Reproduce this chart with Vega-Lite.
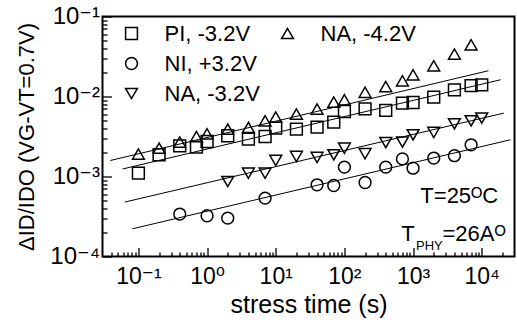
{
  "$schema": "https://vega.github.io/schema/vega-lite/v6.json",
  "width": 412,
  "height": 240,
  "autosize": {"type": "none"},
  "padding": {"left": 102.5, "top": 16.5, "right": 2.5, "bottom": 65.5},
  "config": {
    "font": "Liberation Sans",
    "view": {"stroke": "black", "strokeWidth": 2},
    "axis": {
      "domain": false, "grid": false,
      "labelColor": "black", "titleColor": "black", "tickColor": "black",
      "labelFont": "Liberation Sans, DejaVu Sans", "titleFont": "Liberation Sans, DejaVu Sans",
      "titleFontWeight": "normal", "labelOverlap": false, "labelFlush": false, "tickWidth": 1.3
    }
  },
  "datasets": {
    "meas": [
      {"series": "PI, -3.2V", "t": 0.1, "v": 0.00110},
      {"series": "PI, -3.2V", "t": 0.2, "v": 0.00187},
      {"series": "PI, -3.2V", "t": 0.4, "v": 0.00242},
      {"series": "PI, -3.2V", "t": 0.7, "v": 0.00233},
      {"series": "PI, -3.2V", "t": 1, "v": 0.00274},
      {"series": "PI, -3.2V", "t": 2, "v": 0.00323},
      {"series": "PI, -3.2V", "t": 4, "v": 0.00293},
      {"series": "PI, -3.2V", "t": 7, "v": 0.00316},
      {"series": "PI, -3.2V", "t": 10, "v": 0.00403},
      {"series": "PI, -3.2V", "t": 20, "v": 0.00391},
      {"series": "PI, -3.2V", "t": 40, "v": 0.00414},
      {"series": "PI, -3.2V", "t": 70, "v": 0.00478},
      {"series": "PI, -3.2V", "t": 100, "v": 0.00649},
      {"series": "PI, -3.2V", "t": 200, "v": 0.00700},
      {"series": "PI, -3.2V", "t": 400, "v": 0.00670},
      {"series": "PI, -3.2V", "t": 700, "v": 0.00827},
      {"series": "PI, -3.2V", "t": 1000, "v": 0.00841},
      {"series": "PI, -3.2V", "t": 2000, "v": 0.00983},
      {"series": "PI, -3.2V", "t": 4000, "v": 0.0121},
      {"series": "PI, -3.2V", "t": 7000, "v": 0.0137},
      {"series": "PI, -3.2V", "t": 10000, "v": 0.0140},
      {"series": "NA, -4.2V", "t": 0.1, "v": 0.00191},
      {"series": "NA, -4.2V", "t": 0.2, "v": 0.00226},
      {"series": "NA, -4.2V", "t": 0.4, "v": 0.00269},
      {"series": "NA, -4.2V", "t": 0.7, "v": 0.00316},
      {"series": "NA, -4.2V", "t": 1, "v": 0.00342},
      {"series": "NA, -4.2V", "t": 2, "v": 0.00391},
      {"series": "NA, -4.2V", "t": 4, "v": 0.00410},
      {"series": "NA, -4.2V", "t": 7, "v": 0.00497},
      {"series": "NA, -4.2V", "t": 10, "v": 0.00553},
      {"series": "NA, -4.2V", "t": 20, "v": 0.00603},
      {"series": "NA, -4.2V", "t": 40, "v": 0.00696},
      {"series": "NA, -4.2V", "t": 70, "v": 0.00851},
      {"series": "NA, -4.2V", "t": 100, "v": 0.0091},
      {"series": "NA, -4.2V", "t": 200, "v": 0.0113},
      {"series": "NA, -4.2V", "t": 400, "v": 0.0133},
      {"series": "NA, -4.2V", "t": 700, "v": 0.0157},
      {"series": "NA, -4.2V", "t": 1000, "v": 0.0187},
      {"series": "NA, -4.2V", "t": 2000, "v": 0.0242},
      {"series": "NA, -4.2V", "t": 4000, "v": 0.0339},
      {"series": "NA, -4.2V", "t": 7000, "v": 0.0443},
      {"series": "NA, -3.2V", "t": 2, "v": 0.000866},
      {"series": "NA, -3.2V", "t": 4, "v": 0.00110},
      {"series": "NA, -3.2V", "t": 7, "v": 0.00110},
      {"series": "NA, -3.2V", "t": 10, "v": 0.001585},
      {"series": "NA, -3.2V", "t": 20, "v": 0.00178},
      {"series": "NA, -3.2V", "t": 40, "v": 0.00173},
      {"series": "NA, -3.2V", "t": 70, "v": 0.00187},
      {"series": "NA, -3.2V", "t": 100, "v": 0.00226},
      {"series": "NA, -3.2V", "t": 200, "v": 0.00193},
      {"series": "NA, -3.2V", "t": 400, "v": 0.00266},
      {"series": "NA, -3.2V", "t": 700, "v": 0.00269},
      {"series": "NA, -3.2V", "t": 1000, "v": 0.00332},
      {"series": "NA, -3.2V", "t": 2000, "v": 0.00355},
      {"series": "NA, -3.2V", "t": 4000, "v": 0.00456},
      {"series": "NA, -3.2V", "t": 7000, "v": 0.00497},
      {"series": "NA, -3.2V", "t": 10000, "v": 0.00537},
      {"series": "NI, +3.2V", "t": 0.4, "v": 0.000339},
      {"series": "NI, +3.2V", "t": 1, "v": 0.000323},
      {"series": "NI, +3.2V", "t": 2, "v": 0.000302},
      {"series": "NI, +3.2V", "t": 7, "v": 0.000537},
      {"series": "NI, +3.2V", "t": 40, "v": 0.000787},
      {"series": "NI, +3.2V", "t": 70, "v": 0.000772},
      {"series": "NI, +3.2V", "t": 100, "v": 0.00131},
      {"series": "NI, +3.2V", "t": 200, "v": 0.000841},
      {"series": "NI, +3.2V", "t": 400, "v": 0.00131},
      {"series": "NI, +3.2V", "t": 700, "v": 0.00166},
      {"series": "NI, +3.2V", "t": 1000, "v": 0.00127},
      {"series": "NI, +3.2V", "t": 2000, "v": 0.00170},
      {"series": "NI, +3.2V", "t": 4000, "v": 0.00182},
      {"series": "NI, +3.2V", "t": 7000, "v": 0.00249}
    ],
    "fits": [
      {"line": "NA42", "t": 0.039, "v": 0.001585},
      {"line": "NA42", "t": 12500, "v": 0.021},
      {"line": "PI", "t": 0.0586, "v": 0.00124},
      {"line": "PI", "t": 18800, "v": 0.0162},
      {"line": "NA32", "t": 0.0633, "v": 0.000479},
      {"line": "NA32", "t": 21000, "v": 0.0062},
      {"line": "NI", "t": 0.0818, "v": 0.000222},
      {"line": "NI", "t": 26300, "v": 0.00288}
    ],
    "notes": [
      {"label": "T=25ᴼC", "t": 1276, "v": 0.000465},
      {"label": "T", "t": 670, "v": 0.000154},
      {"label": "=26Aᴼ", "t": 2685, "v": 0.000154}
    ],
    "notesSub": [
      {"label": "PHY", "t": 1104, "v": 0.0001213}
    ]
  },
  "encoding": {
    "x": {
      "field": "t", "type": "quantitative",
      "scale": {"type": "log", "domain": [0.03, 30000], "nice": false},
      "axis": {
        "title": "stress time (s)",
        "values": [0.04,0.05,0.06,0.07,0.08,0.09,0.1,0.2,0.3,0.4,0.5,0.6,0.7,0.8,0.9,1,2,3,4,5,6,7,8,9,10,20,30,40,50,60,70,80,90,100,200,300,400,500,600,700,800,900,1000,2000,3000,4000,5000,6000,7000,8000,9000,10000,20000],
        "labelExpr": "datum.value == 0.1 ? '10⁻¹' : datum.value == 1 ? '10⁰' : datum.value == 10 ? '10¹' : datum.value == 100 ? '10²' : datum.value == 1000 ? '10³' : datum.value == 10000 ? '10⁴' : ''",
        "tickSize": {"condition": {"test": "datum.value == 0.1 || datum.value == 1 || datum.value == 10 || datum.value == 100 || datum.value == 1000 || datum.value == 10000", "value": -9}, "value": -4.5},
        "labelFontSize": 23,
        "labelPadding": 18,
        "labelBaseline": "top",
        "labelAlign": "center",
        "titleFontSize": 25,
        "titleY": 56,
        "titleBaseline": "alphabetic"
      }
    },
    "y": {
      "field": "v", "type": "quantitative",
      "scale": {"type": "log", "domain": [0.0001, 0.1], "nice": false},
      "axis": {
        "title": "ΔID/IDO (VG-VT=0.7V)",
        "values": [0.0001,0.0002,0.0003,0.0004,0.0005,0.0006,0.0007,0.0008,0.0009,0.001,0.002,0.003,0.004,0.005,0.006,0.007,0.008,0.009,0.01,0.02,0.03,0.04,0.05,0.06,0.07,0.08,0.09,0.1],
        "labelExpr": "datum.value == 0.0001 ? '10⁻⁴' : datum.value == 0.001 ? '10⁻³' : datum.value == 0.01 ? '10⁻²' : datum.value == 0.1 ? '10⁻¹' : ''",
        "tickSize": {"condition": {"test": "datum.value == 0.0001 || datum.value == 0.001 || datum.value == 0.01 || datum.value == 0.1", "value": -9}, "value": -4.5},
        "labelFontSize": 24,
        "labelPadding": 12,
        "titleFontSize": 22,
        "titleX": -69,
        "titleY": 120,
        "titleAngle": -90,
        "titleAlign": "center",
        "titleBaseline": "alphabetic"
      }
    }
  },
  "layer": [
    {
      "data": {"name": "fits"},
      "mark": {"type": "line", "color": "black", "strokeWidth": 1},
      "encoding": {"detail": {"field": "line", "type": "nominal"}}
    },
    {
      "data": {"name": "meas"},
      "mark": {"type": "point", "filled": false, "color": "black", "strokeWidth": 1.5, "size": 140, "opacity": 1},
      "encoding": {
        "shape": {
          "field": "series", "type": "nominal",
          "scale": {
            "domain": ["PI, -3.2V", "NI, +3.2V", "NA, -3.2V", "NA, -4.2V", "dummy"],
            "range": ["square", "circle", "triangle-down", "triangle-up", "M0,0"]
          },
          "legend": {
            "title": null, "orient": "none", "legendX": 18, "legendY": 6,
            "columns": 2, "columnPadding": 16, "rowPadding": 8, "labelOffset": 22,
            "symbolSize": 140, "symbolStrokeWidth": 1.5, "symbolStrokeColor": "black",
            "labelFontSize": 22, "labelFont": "Liberation Sans", "labelColor": "black",
            "labelExpr": "datum.label == 'dummy' ? '' : datum.label"
          }
        }
      }
    },
    {
      "data": {"name": "notes"},
      "mark": {"type": "text", "fontSize": 22, "align": "left", "baseline": "alphabetic", "font": "Liberation Sans, DejaVu Sans", "color": "black"},
      "encoding": {"text": {"field": "label", "type": "nominal"}}
    },
    {
      "data": {"name": "notesSub"},
      "mark": {"type": "text", "fontSize": 13, "align": "left", "baseline": "alphabetic", "font": "Liberation Sans, DejaVu Sans", "color": "black"},
      "encoding": {"text": {"field": "label", "type": "nominal"}}
    }
  ]
}
